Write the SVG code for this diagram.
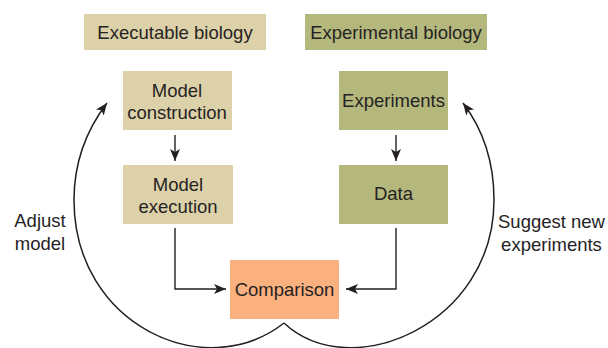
<svg xmlns="http://www.w3.org/2000/svg" width="608" height="348" viewBox="0 0 608 348">
<style>
text{font-family:"Liberation Sans",Arial,sans-serif;font-size:18.5px;fill:#262324;text-anchor:middle}
.tan{fill:#dcd1a8}
.grn{fill:#b4b87c}
.org{fill:#fbb17f}
.ln{fill:none;stroke:#231f20;stroke-width:1.4}
.cv{fill:none;stroke:#231f20;stroke-width:1.5}
</style>
<defs>
<marker id="ah" viewBox="0 0 12 10" refX="12" refY="5" markerWidth="12" markerHeight="10" markerUnits="userSpaceOnUse" orient="auto">
<path d="M0,0 L12,5 L0,10 L3,5 z" fill="#231f20"/>
</marker>
</defs>
<g id="executable-biology"><rect class="tan" x="84" y="14" width="182" height="36"/><text x="175" y="39">Executable biology</text></g>
<g id="experimental-biology"><rect class="grn" x="305" y="14" width="182" height="36"/><text x="396" y="39">Experimental biology</text></g>
<g id="model-construction"><rect class="tan" x="123" y="71" width="109" height="59"/><text x="177" y="97">Model</text><text x="177" y="119">construction</text></g>
<g id="experiments"><rect class="grn" x="339" y="71" width="109" height="59"/><text x="393.5" y="107">Experiments</text></g>
<g id="model-execution"><rect class="tan" x="123" y="165" width="110" height="59"/><text x="178" y="191">Model</text><text x="178" y="213">execution</text></g>
<g id="data"><rect class="grn" x="339" y="165" width="109" height="59"/><text x="393.5" y="200">Data</text></g>
<g id="comparison"><rect class="org" x="230" y="260" width="109" height="59"/><text x="284.5" y="296">Comparison</text></g>
<g id="labels"><text x="40" y="227">Adjust</text><text x="40" y="250">model</text><text x="551.5" y="228">Suggest new</text><text x="551.5" y="251">experiments</text></g>
<g id="connectors">
<path class="ln" d="M175,135 V161" marker-end="url(#ah)"/>
<path class="ln" d="M396,135 V161" marker-end="url(#ah)"/>
<path class="ln" d="M175,228 V289 H226" marker-end="url(#ah)"/>
<path class="ln" d="M396,228 V289 H346" marker-end="url(#ah)"/>
<path class="cv" d="M284,323 C205,385 74,325 74,200 C74,160 88,128 107,103" marker-end="url(#ah)"/>
<path class="cv" d="M284,323 C350,385 494,325 494,200 C494,160 482,128 463,103" marker-end="url(#ah)"/>
</g>
</svg>
